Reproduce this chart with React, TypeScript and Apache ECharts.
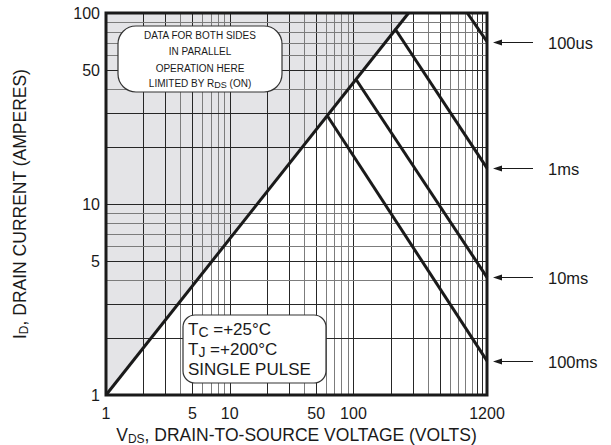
import React, { useEffect, useRef } from "react";
import * as echarts from "echarts";

const FONT = "'Liberation Sans', Arial, Helvetica, sans-serif";

// Axis ranges and tick labels
const X_MIN = 1;
const X_MAX = 1200;
const Y_MIN = 1;
const Y_MAX = 100;
const xTickLabels = [1, 5, 10, 50, 100, 1200];
const yTickLabels = [1, 5, 10, 50, 100];

// Grid lines (log paper)
const xGrid = [2, 3, 4, 5, 6, 7, 8, 9, 10, 20, 30, 40, 50, 60, 70, 80, 90, 100, 200, 300, 400, 500, 600, 700, 800, 900, 1000, 1100];
const yGrid = [2, 3, 4, 5, 6, 7, 8, 9, 10, 20, 30, 40, 50, 60, 70, 80, 90];

// RDS(on) limit line (V, A)
const rdsLimit = [[1, 1], [279, 100]];

// Pulse lines (V, A)
const pulse100us = [[832, 100], [1200, 70.8]];
const pulse1ms = [[216, 83], [1200, 15.4]];
const pulse10ms = [[105.6, 44.6], [1200, 4.13]];
const pulse100ms = [[62, 28.7], [1200, 1.51]];
const pulseNames = ["100us", "1ms", "10ms", "100ms"];
const pulseEnds = [[1200, 70.8], [1200, 15.4], [1200, 4.13], [1200, 1.51]];

const isDark = (v: number) => {
  const lead = Math.round(v / Math.pow(10, Math.floor(Math.log10(v) + 1e-9)));
  return lead === 1 || lead === 2 || lead === 3 || lead === 5;
};

const curveStyle = { color: "#1a1a1a", width: 3 };

const titleRich = {
  n: { fontSize: 17.5, fontFamily: FONT, color: "#1a1a1a", lineHeight: 20 },
  s: { fontSize: 12, fontFamily: FONT, color: "#1a1a1a", lineHeight: 9, verticalAlign: "bottom" },
};

const option: any = {
  animation: false,
  backgroundColor: "#ffffff",
  grid: { left: 106, top: 13, width: 381, height: 382, containLabel: false, outerBoundsMode: "none" },
  xAxis: {
    type: "log",
    logBase: 10,
    min: X_MIN,
    max: X_MAX,
    axisLine: { show: false },
    axisTick: { show: false },
    splitLine: { show: false },
    axisLabel: {
      customValues: xTickLabels,
      margin: 10,
      fontSize: 16,
      fontFamily: FONT,
      color: "#1a1a1a",
      formatter: (v: number) => String(v),
    },
    name: "{n|V}{s|DS}{n|, DRAIN-TO-SOURCE VOLTAGE (VOLTS)}",
    nameLocation: "middle",
    nameGap: 29,
    nameTextStyle: { fontFamily: FONT, color: "#1a1a1a", rich: titleRich },
  },
  yAxis: {
    type: "log",
    logBase: 10,
    min: Y_MIN,
    max: Y_MAX,
    axisLine: { show: false },
    axisTick: { show: false },
    splitLine: { show: false },
    axisLabel: {
      customValues: yTickLabels,
      margin: 6,
      fontSize: 16,
      fontFamily: FONT,
      color: "#1a1a1a",
      formatter: (v: number) => String(v),
    },
    name: "{n|I}{s|D}{n|, DRAIN CURRENT (AMPERES)}",
    nameLocation: "middle",
    nameRotate: 90,
    nameGap: 76,
    nameTextStyle: { fontFamily: FONT, color: "#1a1a1a", rich: titleRich, padding: [0, 0, 0, 0] },
  },
  series: [
    {
      type: "custom",
      name: "shade",
      coordinateSystem: "cartesian2d",
      silent: true,
      z: 1,
      data: [rdsLimit[1]],
      renderItem: (params: any, api: any) => {
        const p0 = api.coord(rdsLimit[0]);
        const p1 = api.coord(rdsLimit[1]);
        const p2 = api.coord([X_MIN, Y_MAX]);
        return {
          type: "polygon",
          shape: { points: [p0, p1, p2] },
          style: { fill: "#e4e4e7", stroke: "none" },
        };
      },
    },
    {
      type: "custom",
      name: "xgrid",
      coordinateSystem: "cartesian2d",
      silent: true,
      z: 2,
      data: xGrid.map((v) => [v, Y_MIN]),
      renderItem: (params: any, api: any) => {
        const v = xGrid[params.dataIndex];
        const a = api.coord([v, Y_MIN]);
        const b = api.coord([v, Y_MAX]);
        return {
          type: "line",
          shape: { x1: Math.round(a[0]) + 0.5, y1: a[1], x2: Math.round(b[0]) + 0.5, y2: b[1] },
          style: { stroke: isDark(v) ? "#262626" : "#7c7c7c", lineWidth: 1 },
        };
      },
    },
    {
      type: "custom",
      name: "ygrid",
      coordinateSystem: "cartesian2d",
      silent: true,
      z: 2,
      data: yGrid.map((v) => [X_MIN, v]),
      renderItem: (params: any, api: any) => {
        const v = yGrid[params.dataIndex];
        const a = api.coord([X_MIN, v]);
        const b = api.coord([X_MAX, v]);
        return {
          type: "line",
          shape: { x1: a[0], y1: Math.round(a[1]) + 0.5, x2: b[0], y2: Math.round(b[1]) + 0.5 },
          style: { stroke: isDark(v) ? "#262626" : "#7c7c7c", lineWidth: 1 },
        };
      },
    },
    { type: "line", name: "RDS(on)", data: rdsLimit, symbol: "none", z: 10, lineStyle: curveStyle },
    { type: "line", name: "100us", data: pulse100us, symbol: "none", z: 10, lineStyle: curveStyle },
    { type: "line", name: "1ms", data: pulse1ms, symbol: "none", z: 10, lineStyle: curveStyle },
    { type: "line", name: "10ms", data: pulse10ms, symbol: "none", z: 10, lineStyle: curveStyle },
    { type: "line", name: "100ms", data: pulse100ms, symbol: "none", z: 10, lineStyle: curveStyle },
    {
      type: "custom",
      name: "arrows",
      coordinateSystem: "cartesian2d",
      silent: true,
      clip: false,
      z: 12,
      data: pulseEnds,
      renderItem: (params: any, api: any) => {
        const e = pulseEnds[params.dataIndex];
        const p = api.coord(e);
        const x0 = p[0] + 6;
        const y = Math.round(p[1]) + 0.5;
        return {
          type: "group",
          children: [
            { type: "line", shape: { x1: x0 + 6, y1: y, x2: x0 + 40, y2: y }, style: { stroke: "#1a1a1a", lineWidth: 1.2 } },
            { type: "polygon", shape: { points: [[x0, y], [x0 + 9, y - 3], [x0 + 9, y + 3]] }, style: { fill: "#1a1a1a" } },
            {
              type: "text",
              x: x0 + 55,
              y: y,
              style: { text: pulseNames[params.dataIndex], fontSize: 16.5, fontFamily: FONT, fill: "#1a1a1a", verticalAlign: "middle", align: "left" },
            },
          ],
        };
      },
    },
  ],
  graphic: [
    {
      type: "group",
      z: 5,
      children: [
        { type: "rect", shape: { x: 118, y: 26, width: 164, height: 66, r: 18 }, style: { fill: "#ffffff", stroke: "#333333", lineWidth: 1.2 }, z: 5 },
        { type: "text", x: 200, y: 35, style: { text: "DATA FOR BOTH SIDES", fontSize: 10, fontFamily: FONT, fill: "#1a1a1a", align: "center", verticalAlign: "middle" }, z: 6 },
        { type: "text", x: 200, y: 51, style: { text: "IN PARALLEL", fontSize: 10, fontFamily: FONT, fill: "#1a1a1a", align: "center", verticalAlign: "middle" }, z: 6 },
        { type: "text", x: 200, y: 68, style: { text: "OPERATION HERE", fontSize: 10, fontFamily: FONT, fill: "#1a1a1a", align: "center", verticalAlign: "middle" }, z: 6 },
        {
          type: "text", x: 200, y: 83, z: 6,
          style: {
            text: "{n|LIMITED BY R}{s|DS}{n| (ON)}",
            align: "center", verticalAlign: "middle", fontFamily: FONT,
            rich: {
              n: { fontSize: 10, fontFamily: FONT, fill: "#1a1a1a", lineHeight: 12 },
              s: { fontSize: 9, fontFamily: FONT, fill: "#1a1a1a", lineHeight: 7, verticalAlign: "bottom" },
            },
          },
        },
        { type: "rect", shape: { x: 183, y: 315, width: 143, height: 68, r: 12 }, style: { fill: "#ffffff", stroke: "#333333", lineWidth: 1.2 }, z: 5 },
        {
          type: "text", x: 188, y: 329, z: 6,
          style: {
            text: "{n|T}{s|C}{n| =+25°C}",
            align: "left", verticalAlign: "middle", fontFamily: FONT,
            rich: {
              n: { fontSize: 17, fontFamily: FONT, fill: "#1a1a1a", lineHeight: 20 },
              s: { fontSize: 14, fontFamily: FONT, fill: "#1a1a1a", lineHeight: 10, verticalAlign: "bottom" },
            },
          },
        },
        {
          type: "text", x: 188, y: 349, z: 6,
          style: {
            text: "{n|T}{s|J}{n| =+200°C}",
            align: "left", verticalAlign: "middle", fontFamily: FONT,
            rich: {
              n: { fontSize: 17, fontFamily: FONT, fill: "#1a1a1a", lineHeight: 20 },
              s: { fontSize: 14, fontFamily: FONT, fill: "#1a1a1a", lineHeight: 10, verticalAlign: "bottom" },
            },
          },
        },
        { type: "text", x: 188, y: 369, style: { text: "SINGLE PULSE", fontSize: 17, fontFamily: FONT, fill: "#1a1a1a", align: "left", verticalAlign: "middle" }, z: 6 },
      ],
    },
    {
      type: "rect",
      z: 100,
      shape: { x: 106, y: 13, width: 381, height: 382 },
      style: { fill: "none", stroke: "#1a1a1a", lineWidth: 3 },
    },
  ],
};

export default function App() {
  const ref = useRef<HTMLDivElement>(null);
  useEffect(() => {
    const chart = echarts.init(ref.current!, null, { renderer: "svg" });
    chart.setOption(option);
    return () => chart.dispose();
  }, []);
  return <div ref={ref} style={{ position: "fixed", left: 0, top: 0, width: 611, height: 445 }} />;
}
